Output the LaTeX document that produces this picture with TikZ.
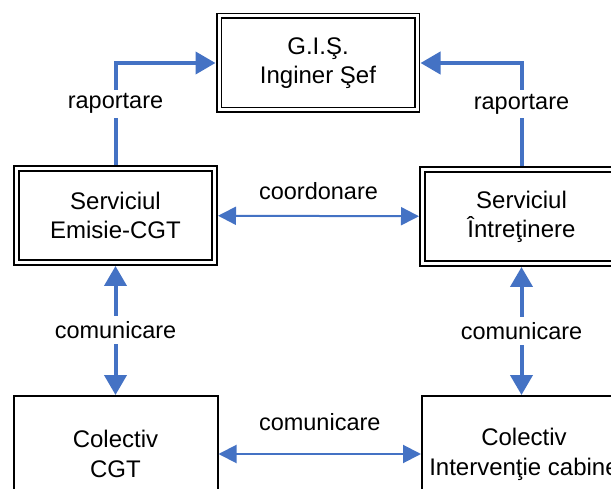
\documentclass[tikz,border=0pt]{standalone}
\usepackage{fontspec}
\setmainfont{Liberation Sans}
\usetikzlibrary{arrows.meta,positioning}
\definecolor{linkblue}{RGB}{68,114,196}

\begin{document}
\begin{tikzpicture}[x=1pt,y=-1pt]
                \tikzstyle{dbox}=[rectangle, draw=black, line width=1.8pt, double, double distance=3pt, minimum width=198pt, minimum height=94pt, outer sep=3.5pt, align=center, font=\fontsize{24}{29}\selectfont]
                \tikzstyle{sbox}=[rectangle, draw=black, line width=2pt, minimum width=204pt, minimum height=116pt, align=center, font=\fontsize{24}{30}\selectfont]
                \tikzstyle{lbl}=[fill=white, inner sep=3pt, minimum height=28pt, font=\fontsize{23.5}{29}\selectfont]
                \tikzstyle{wide}=[line width=4pt, draw=linkblue]
                \tikzstyle{slim}=[line width=2pt, draw=linkblue, {Triangle[length=18pt,width=18pt]}-{Triangle[length=18pt,width=18pt]}]
                \path[use as bounding box, clip] (0,0) rectangle (611,489);
                \node[dbox] (gis) at (318,63){G.I.Ş.\\Inginer Şef};
                \node[dbox] (emisie) at (115.5,215.5){Serviciul\\Emisie-CGT};
                \node[dbox] (intretinere) at (521.5,216.5){Serviciul\\Întreţinere};
    \node[sbox] (colcgt) at (115.5,454){Colectiv\\CGT};
                \node[sbox] (colint) at (524,454){Colectiv\\Intervenţie cabine};
                \draw[wide, -{Triangle[length=20pt,width=22pt]}] (emisie.north) |- node[lbl, pos=0.3]{raportare} (gis.west);
                \draw[wide, -{Triangle[length=20pt,width=22pt]}] (intretinere.north) |- node[lbl, pos=0.3]{raportare} (gis.east);
                \path (emisie) edge [slim] node[lbl, above=12pt, minimum height=0pt]{coordonare} (intretinere);
                \path (emisie) edge [wide, {Triangle[length=20pt,width=22pt]}-{Triangle[length=20pt,width=22pt]}] node[lbl]{comunicare} (colcgt);
                \path (intretinere.south) edge [wide, {Triangle[length=20pt,width=22pt]}-{Triangle[length=20pt,width=22pt]}] node[lbl]{comunicare} (intretinere.south |- colint.north);
                \path (colcgt) edge [slim] node[lbl, above=19pt, minimum height=0pt]{comunicare} (colint);
    
    \end{tikzpicture}
\end{document}
